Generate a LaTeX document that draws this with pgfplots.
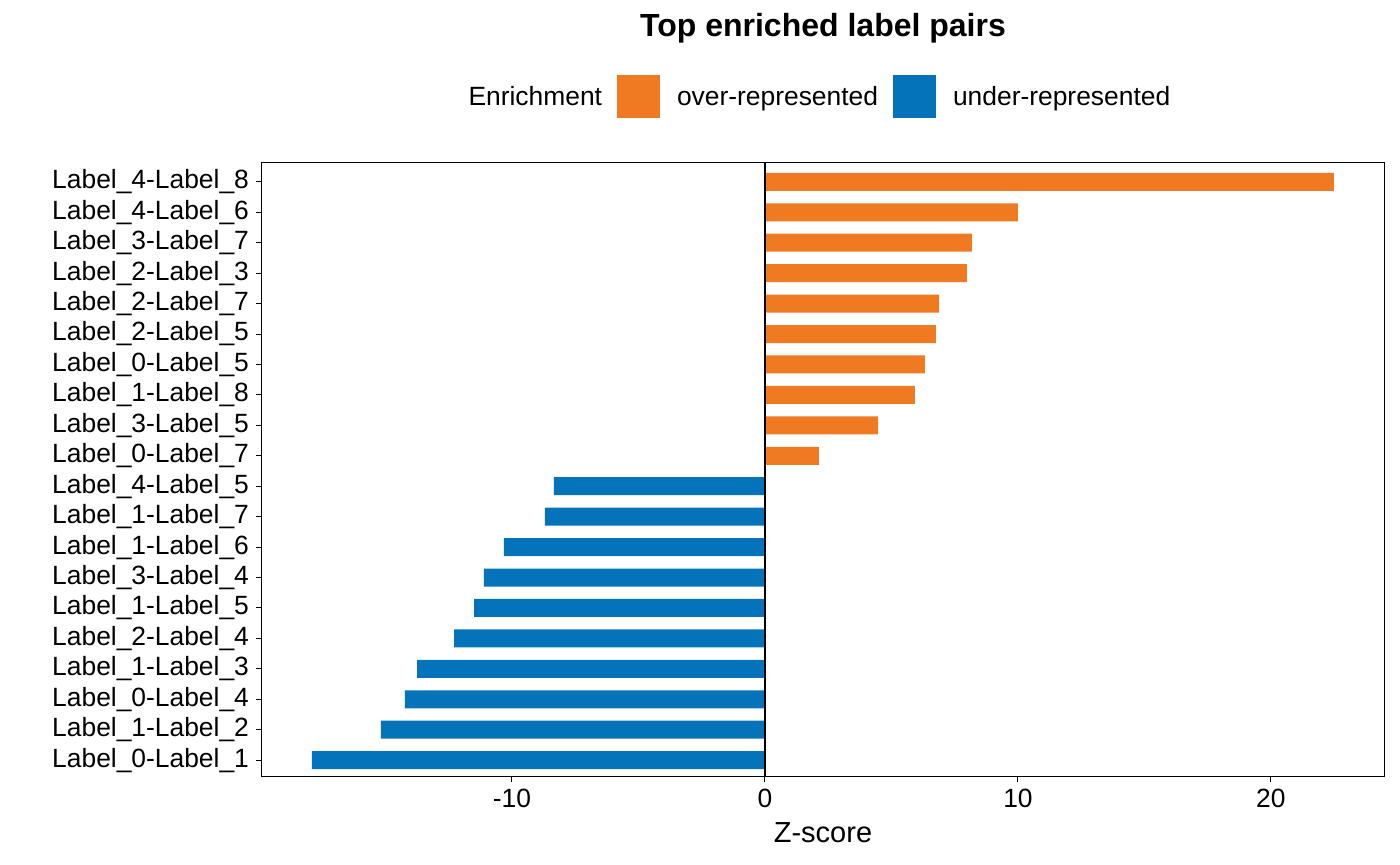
\documentclass[border=0pt]{standalone}
\usepackage{fontspec}
\setmainfont{Liberation Sans}
\usepackage{pgfplots}
\pgfplotsset{compat=1.18}
\definecolor{overrep}{HTML}{F07A22}
\definecolor{underrep}{HTML}{0473B9}

\begin{document}
\begin{tikzpicture}
\begin{axis}[
  scale only axis, width=561bp, height=306.5bp,
  xbar, bar shift=0pt, bar width=9bp,
  xmin=-19.88, xmax=24.47, ymin=-0.52, ymax=19.62,
  ytick={0,...,19},
  yticklabels={Label\_0-Label\_1, Label\_1-Label\_2, Label\_0-Label\_4, Label\_1-Label\_3,
    Label\_2-Label\_4, Label\_1-Label\_5, Label\_3-Label\_4, Label\_1-Label\_6,
    Label\_1-Label\_7, Label\_4-Label\_5, Label\_0-Label\_7, Label\_3-Label\_5,
    Label\_1-Label\_8, Label\_0-Label\_5, Label\_2-Label\_5, Label\_2-Label\_7,
    Label\_2-Label\_3, Label\_3-Label\_7, Label\_4-Label\_6, Label\_4-Label\_8},
  xtick={-10,0,10,20},
  xtick pos=lower, ytick pos=left,
  /pgf/number format/assume math mode=true,
  tick align=outside, major tick length=3bp,
  tick style={black, line width=0.5bp},
  axis line style={line width=0.5bp},
  tick label style={font=\fontsize{13.2bp}{15bp}\selectfont},
  xlabel={Z-score},
  xlabel style={font=\fontsize{14.5bp}{16bp}\selectfont, at={(axis description cs:0.5,-0.093)}, anchor=center},
  title={\bfseries Top enriched label pairs},
  every axis title shift=0pt,
  title style={font=\fontsize{16bp}{18bp}\selectfont, at={(axis description cs:0.5,1.2202)}, anchor=center},
  legend style={at={(axis description cs:0.491,1.1077)}, anchor=center, draw=none,
    font=\fontsize{13.2bp}{15bp}\selectfont,
    /tikz/every odd column/.append style={column sep=6.5bp},
    /tikz/every even column/.append style={column sep=5.5bp}},
  legend columns=-1,
  legend image code/.code={\fill (0bp,-10.75bp) rectangle (21.5bp,10.75bp);},
]
\addlegendimage{empty legend}
\addlegendentry{Enrichment}
\addplot[fill=overrep, draw=none] coordinates {
  (2.13,10) (4.47,11) (5.93,12) (6.32,13) (6.76,14)
  (6.88,15) (7.98,16) (8.18,17) (10.00,18) (22.49,19)};
\addlegendentry{over-represented}
\addplot[fill=underrep, draw=none] coordinates {
  (-17.91,0) (-15.18,1) (-14.23,2) (-13.75,3) (-12.29,4)
  (-11.50,5) (-11.11,6) (-10.32,7) (-8.70,8) (-8.34,9)};
\addlegendentry{under-represented}
\draw[line width=1.4bp] (axis cs:0,-0.52) -- (axis cs:0,19.62);
\end{axis}
\pgfresetboundingbox
\path ([xshift=-131bp,yshift=-44.5bp]current axis.south west) rectangle ([xshift=8bp,yshift=81.5bp]current axis.north east);
\end{tikzpicture}
\end{document}
